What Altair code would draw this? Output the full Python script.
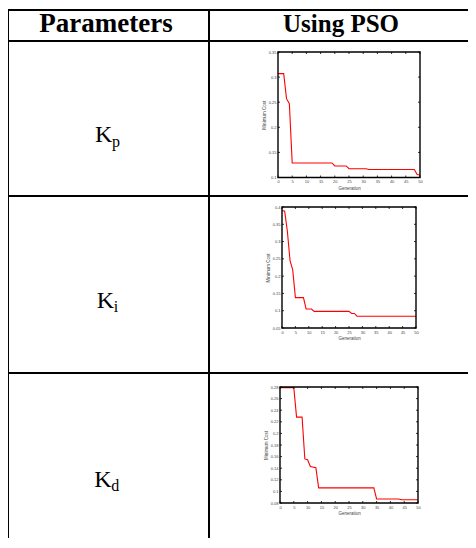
import altair as alt
import pandas as pd

# ---------------- data ----------------
header = ["Parameters", "Using PSO"]
gain_letter = ["K", "K", "K"]
gain_sub = ["p", "i", "d"]

x_ticks = [0, 5, 10, 15, 20, 25, 30, 35, 40, 45, 50]

kp_gen = [0, 2, 3, 4, 5, 19, 20, 24, 25, 31, 32, 48, 49, 50]
kp_cost = [0.307, 0.307, 0.257, 0.247, 0.129, 0.129, 0.123, 0.123, 0.1175, 0.1175,
           0.116, 0.116, 0.106, 0.105]
kp_yticks = [0.1, 0.15, 0.2, 0.25, 0.3, 0.35]

ki_gen = [0, 1, 2, 3, 4, 5, 8, 9, 11, 12, 25, 26, 27, 28, 50]
ki_cost = [0.39, 0.388, 0.33, 0.245, 0.218, 0.138, 0.138, 0.105, 0.105, 0.098,
           0.098, 0.092, 0.092, 0.084, 0.084]
ki_yticks = [0.05, 0.1, 0.15, 0.2, 0.25, 0.3, 0.35, 0.4]

kd_gen = [0, 5, 6, 8, 9, 10, 11, 13, 14, 34, 35, 43, 44, 50]
kd_cost = [0.279, 0.279, 0.228, 0.228, 0.156, 0.1545, 0.143, 0.141, 0.106, 0.106,
           0.087, 0.087, 0.0855, 0.0855]
kd_yticks = [0.08, 0.1, 0.12, 0.14, 0.16, 0.18, 0.2, 0.22, 0.24, 0.26, 0.28]

# ---------------- layout (pixels inside the single view) ----------------
W, H = 460, 530
ONE = pd.DataFrame({"k": [0]})
TICK = 2

# plot boxes: (left, right, top, bottom)
boxes = [(270, 412, 44, 169.5), (274, 408, 199, 320), (272, 410, 379, 495)]


def panel(gen, cost, yticks, box):
    x0, x1, y0, y1 = box
    df = pd.DataFrame({"Generation": gen, "Minimum Cost": cost})
    xs = alt.Scale(domain=[x_ticks[0], x_ticks[-1]], range=[x0, x1], nice=False, zero=False)
    ys = alt.Scale(domain=[yticks[0], yticks[-1]], range=[y1, y0], nice=False, zero=False)
    line = alt.Chart(df).mark_line(color="#ff0000", strokeWidth=1.1).encode(
        x=alt.X("Generation:Q", scale=xs,
                axis=alt.Axis(values=x_ticks, format="d", orient="bottom", offset=y1 - H)),
        y=alt.Y("Minimum Cost:Q", scale=ys,
                axis=alt.Axis(values=yticks, format=".2~f", orient="left", offset=-x0)),
    )
    fr = pd.DataFrame({"a": [x_ticks[0]], "b": [x_ticks[-1]],
                       "c": [yticks[0]], "d": [yticks[-1]]})
    frame = alt.Chart(fr).mark_rect(fill="transparent", stroke="black", strokeWidth=1.4).encode(
        x=alt.X("a:Q", scale=xs, axis=None), x2="b:Q",
        y=alt.Y("c:Q", scale=ys, axis=None), y2="d:Q")
    xt = pd.DataFrame({"g": x_ticks})
    yt = pd.DataFrame({"c": yticks})
    tick = dict(color="black", strokeWidth=0.8)
    bottom = alt.Chart(xt).mark_rule(**tick).encode(
        x=alt.X("g:Q", scale=xs, axis=None), y=alt.value(y1), y2=alt.value(y1 - TICK))
    top = alt.Chart(xt).mark_rule(**tick).encode(
        x=alt.X("g:Q", scale=xs, axis=None), y=alt.value(y0), y2=alt.value(y0 + TICK))
    left = alt.Chart(yt).mark_rule(**tick).encode(
        y=alt.Y("c:Q", scale=ys, axis=None), x=alt.value(x0), x2=alt.value(x0 + TICK))
    right = alt.Chart(yt).mark_rule(**tick).encode(
        y=alt.Y("c:Q", scale=ys, axis=None), x=alt.value(x1), x2=alt.value(x1 - TICK))
    return [line, bottom, top, left, right, frame]


layers = []
layers += panel(kp_gen, kp_cost, kp_yticks, boxes[0])
layers += panel(ki_gen, ki_cost, ki_yticks, boxes[1])
layers += panel(kd_gen, kd_cost, kd_yticks, boxes[2])

# ---- table frame ----
border = dict(color="black", strokeWidth=2)
XL, XM, XR = 0, 201, W
YT, YH, Y1, Y2, YB = 2, 33, 188, 365, H
for yy in [YT, YH, Y1, Y2]:
    layers.append(alt.Chart(ONE).mark_rule(**border).encode(
        x=alt.value(XL), x2=alt.value(XR), y=alt.value(yy)))
for xx in [XL, XM]:
    layers.append(alt.Chart(ONE).mark_rule(**border).encode(
        x=alt.value(xx), y=alt.value(YT), y2=alt.value(YB)))

serif = "Liberation Serif"
for txt, cx, fs in zip(header, [98, 333], [27, 25]):
    layers.append(alt.Chart(ONE).mark_text(
        text=txt, font=serif, fontSize=fs, fontWeight="bold", align="center",
        baseline="alphabetic", color="black").encode(x=alt.value(cx), y=alt.value(24)))

k_pos = [(87, 134), (88.7, 300), (86.3, 478.7)]
s_pos = [(104, 139), (105.7, 304), (103.3, 483)]
for letter, sub, (kx, ky), (sx, sy) in zip(gain_letter, gain_sub, k_pos, s_pos):
    layers.append(alt.Chart(ONE).mark_text(
        text=letter, font=serif, fontSize=24, align="left", baseline="alphabetic",
        color="black").encode(x=alt.value(kx), y=alt.value(ky)))
    layers.append(alt.Chart(ONE).mark_text(
        text=sub, font=serif, fontSize=16, align="left", baseline="alphabetic",
        color="black").encode(x=alt.value(sx), y=alt.value(sy)))

chart = alt.layer(*layers).resolve_scale(
    x="independent", y="independent"
).resolve_axis(
    x="independent", y="independent"
).properties(
    width=W, height=H, padding=0, background="white",
    autosize=alt.AutoSizeParams(type="none"),
).configure_view(
    strokeOpacity=0
).configure_axis(
    grid=False, ticks=False, domain=False,
    labelFont="Liberation Sans", labelFontSize=4, labelColor="#444",
    labelPadding=2, labelFlush=False, labelOverlap=False,
    titleFont="Liberation Sans", titleFontSize=4.5, titleFontWeight="normal",
    titleColor="#444", titlePadding=1.5,
)

chart.save("out.html", embed_options={"renderer": "svg", "actions": False})
